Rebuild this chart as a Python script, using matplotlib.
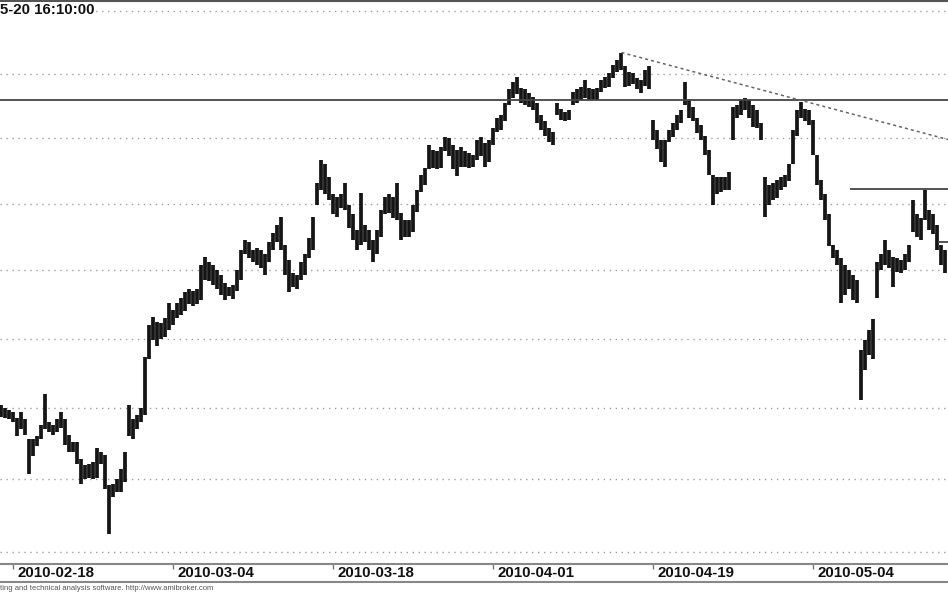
#AmiBroker style intraday chart (bars from the screenshot, right edge cropped)
import matplotlib.pyplot as plt
import matplotlib.transforms as mtransforms
from matplotlib.lines import Line2D
from matplotlib.ticker import FixedLocator, NullLocator

# bar highs / lows, 4 bars per trading day
highs = [2352, 2350, 2349, 2347, 2343, 2347, 2342, 2328, 2328, 2330,
         2338, 2360, 2340, 2338, 2342, 2347, 2342, 2331, 2326, 2326,
         2314, 2310, 2311, 2312, 2322, 2319, 2317, 2296, 2297, 2300,
         2307, 2319, 2352, 2342, 2345, 2350, 2387, 2410, 2416, 2412,
         2411, 2415, 2426, 2421, 2426, 2430, 2434, 2436, 2435, 2436,
         2454, 2460, 2456, 2454, 2450, 2447, 2441, 2438, 2439, 2450,
         2465, 2473, 2471, 2465, 2467, 2465, 2462, 2471, 2478, 2484,
         2490, 2469, 2458, 2448, 2447, 2456, 2462, 2474, 2490, 2516,
         2533, 2530, 2520, 2507, 2505, 2507, 2516, 2499, 2492, 2480,
         2508, 2484, 2480, 2473, 2480, 2495, 2505, 2507, 2505, 2516,
         2493, 2488, 2488, 2499, 2510, 2522, 2527, 2545, 2541, 2540,
         2543, 2551, 2550, 2545, 2541, 2543, 2540, 2539, 2537, 2549,
         2551, 2546, 2549, 2558, 2566, 2568, 2577, 2588, 2594, 2598,
         2589, 2588, 2585, 2582, 2577, 2568, 2563, 2558, 2555, 2577,
         2573, 2570, 2572, 2586, 2588, 2590, 2595, 2589, 2588, 2589,
         2595, 2598, 2601, 2607, 2611, 2617, 2606, 2602, 2601, 2597,
         2595, 2603, 2606, 2564, 2556, 2549, 2549, 2556, 2562, 2568,
         2572, 2594, 2580, 2574, 2566, 2560, 2552, 2541, 2522, 2520,
         2520, 2520, 2524, 2574, 2576, 2580, 2581, 2580, 2576, 2572,
         2562, 2520, 2514, 2516, 2518, 2520, 2522, 2530, 2556, 2572,
         2578, 2573, 2572, 2564, 2537, 2518, 2507, 2492, 2469, 2465,
         2459, 2454, 2450, 2447, 2443, 2392, 2399, 2406, 2414, 2456,
         2462, 2473, 2465, 2460, 2459, 2458, 2462, 2469, 2503, 2492,
         2489, 2510, 2495, 2492, 2484, 2469, 2465]
lows = [2344, 2343, 2342, 2340, 2330, 2335, 2331, 2304, 2316, 2323,
        2328, 2335, 2333, 2331, 2333, 2336, 2324, 2319, 2319, 2311,
        2297, 2300, 2301, 2300, 2301, 2311, 2293, 2262, 2288, 2291,
        2291, 2298, 2330, 2328, 2335, 2340, 2345, 2385, 2399, 2395,
        2400, 2401, 2406, 2410, 2415, 2417, 2420, 2425, 2424, 2425,
        2428, 2443, 2442, 2439, 2436, 2432, 2428, 2431, 2429, 2435,
        2443, 2462, 2459, 2456, 2454, 2452, 2447, 2456, 2465, 2471,
        2465, 2447, 2434, 2438, 2436, 2443, 2447, 2459, 2465, 2499,
        2510, 2507, 2503, 2492, 2490, 2497, 2495, 2482, 2473, 2465,
        2469, 2471, 2465, 2456, 2462, 2475, 2492, 2493, 2489, 2488,
        2473, 2475, 2475, 2479, 2494, 2509, 2514, 2526, 2527, 2526,
        2527, 2540, 2536, 2526, 2521, 2528, 2528, 2527, 2528, 2533,
        2536, 2528, 2532, 2545, 2555, 2556, 2563, 2576, 2581, 2584,
        2577, 2576, 2574, 2572, 2562, 2556, 2552, 2547, 2545, 2568,
        2564, 2563, 2564, 2576, 2577, 2580, 2581, 2580, 2580, 2580,
        2586, 2589, 2590, 2597, 2602, 2603, 2590, 2591, 2592, 2588,
        2585, 2591, 2588, 2549, 2542, 2532, 2528, 2547, 2551, 2556,
        2562, 2576, 2566, 2563, 2554, 2549, 2537, 2522, 2499, 2507,
        2509, 2510, 2510, 2549, 2566, 2568, 2572, 2566, 2559, 2558,
        2549, 2490, 2499, 2503, 2504, 2510, 2513, 2517, 2530, 2552,
        2566, 2563, 2560, 2537, 2514, 2503, 2488, 2468, 2459, 2454,
        2426, 2432, 2436, 2428, 2426, 2356, 2377, 2388, 2385, 2430,
        2450, 2454, 2452, 2438, 2449, 2448, 2450, 2456, 2479, 2475,
        2473, 2488, 2480, 2477, 2465, 2454, 2448]

grid_levels = [2250, 2300, 2350, 2400, 2450, 2500, 2550, 2600, 2650]
date_pos = [3, 43, 83, 123, 163, 203]
date_labels = ['2010-02-18', '2010-03-04', '2010-03-18', '2010-04-01', '2010-04-19', '2010-05-04']

resistance = 2580
support_short = 2511   # short line on the right
support_edge = 2471    # tiny piece at the very edge
trend_x = [155, 236.6]
trend_y = [2617, 2549]

fig = plt.figure(figsize=(9.48, 5.93), dpi=100)
ax = fig.add_axes([0, 29 / 593, 1, 563 / 593])
ax.set_yscale('log')
ax.set_ylim(2241.8, 2658.1)
ax.set_xlim(-0.375, 236.625)

# dotted horizontal grid
ax.yaxis.set_major_locator(FixedLocator(grid_levels))
ax.yaxis.set_minor_locator(NullLocator())
ax.tick_params(axis='y', which='both', left=False, right=False, labelleft=False)
ax.grid(axis='y', color='#a0a0a0', linestyle=(0, (1, 3.3)), lw=1)
ax.set_axisbelow(True)

# price bars, wide enough to nearly touch like the dense hourly bars
ax.vlines(range(len(highs)), lows, highs, color='#151515', lw=2.7)

# drawn lines
ax.axhline(resistance, color='#444444', lw=1.3)
ax.hlines(support_short, 212.1, 240, color='#444444', lw=1.3)
ax.hlines(support_edge, 234.1, 240, color='#444444', lw=1.3)
ax.plot(trend_x, trend_y, color='#666666', lw=1.1, linestyle=(0, (2, 2)))

# date axis
ax.set_xticks(date_pos)
ax.set_xticklabels(date_labels, ha='left', fontsize=10.8, fontweight='bold', family='Liberation Sans', color='#111111')
ax.tick_params(axis='x', length=3.5, width=1, color='#777777', pad=1.5)
shift = mtransforms.ScaledTranslation(4.5 / 100, 5 / 100, fig.dpi_scale_trans)
for lab in ax.get_xticklabels():
    lab.set_transform(lab.get_transform() + shift)

for s in ['left', 'right']:
    ax.spines[s].set_visible(False)
ax.spines['top'].set_color('#555555')
ax.spines['top'].set_linewidth(1.5)
ax.spines['bottom'].set_color('#888888')
ax.spines['bottom'].set_linewidth(1.5)

fig.add_artist(Line2D([0, 1], [11 / 593, 11 / 593], transform=fig.transFigure, color='#888888', lw=1.5))

fig.text(0, 1 - 10 / 593, '5-20 16:10:00', fontsize=10.8, fontweight='bold', family='Liberation Sans',
         va='center', color='#111111', bbox=dict(facecolor='white', edgecolor='none', pad=0.5))
fig.text(0, 5 / 593, 'ting and technical analysis software. http://www.amibroker.com',
         fontsize=5.5, family='Liberation Sans', color='#555555', va='center')

fig.savefig('out.png', dpi=100)
